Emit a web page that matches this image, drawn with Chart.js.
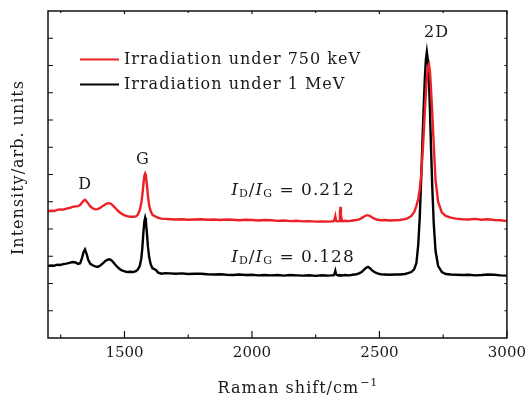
<!DOCTYPE html>
<html>
<head>
<meta charset="utf-8">
<script src="https://cdn.jsdelivr.net/npm/chart.js@4/dist/chart.umd.min.js"></script>
<style>
  body { margin: 0; background: #fff; }
  #raman_chart { display: block; }
</style>
</head>
<body>
<canvas id="raman_chart" width="532" height="402"></canvas>
<script>
// Raman shift (cm^-1), shared by both spectra
const ramanShift = [
  1200, 1212, 1224, 1236, 1248, 1260, 1272, 1284, 1296, 1308,
  1318, 1326, 1333, 1339, 1345, 1351, 1358, 1366, 1375, 1385,
  1395, 1405, 1415, 1424, 1432, 1440, 1448, 1456, 1465, 1475,
  1486, 1498, 1510, 1522, 1534,
  1545, 1553, 1560, 1566, 1570, 1574, 1578, 1581, 1584, 1588,
  1592, 1597, 1603, 1610, 1617, 1624, 1632, 1645,
  1660, 1680, 1700, 1725, 1750, 1775, 1800, 1825, 1850, 1875,
  1900, 1925, 1950, 1975, 2000, 2025, 2050, 2075, 2100, 2125,
  2150, 2175, 2200, 2225, 2250, 2275, 2300, 2312,
  2320, 2324, 2327, 2330, 2336, 2342, 2345, 2347, 2349, 2353,
  2365, 2380, 2395, 2410,
  2420, 2430, 2440, 2448, 2455, 2462, 2470, 2480, 2492, 2505,
  2520, 2540, 2560, 2580, 2600,
  2612, 2625, 2636, 2645, 2652, 2658, 2664, 2669, 2674, 2678,
  2682, 2686, 2690, 2694, 2698, 2702, 2707, 2713, 2720, 2730,
  2745,
  2760, 2780, 2800, 2825, 2850, 2875, 2900, 2925, 2950, 2975,
  3000
];

// Irradiation under 750 keV (red)
const irr750keV = [
  4.65, 4.67, 4.66, 4.70, 4.72, 4.71, 4.75, 4.77, 4.81, 4.83,
  4.84, 4.88, 4.96, 5.03, 5.07, 5.02, 4.93, 4.83, 4.76, 4.72,
  4.73, 4.78, 4.84, 4.90, 4.94, 4.95, 4.92, 4.85, 4.76, 4.66,
  4.58, 4.51, 4.47, 4.45, 4.45,
  4.46, 4.54, 4.70, 4.95, 5.25, 5.62, 5.95, 6.03, 5.95, 5.62,
  5.20, 4.85, 4.65, 4.52, 4.48, 4.45, 4.41, 4.38,
  4.37, 4.36, 4.35, 4.36, 4.34, 4.35, 4.36, 4.34, 4.35, 4.33,
  4.35, 4.34, 4.32, 4.34, 4.33, 4.31, 4.33, 4.32, 4.30, 4.31,
  4.29, 4.30, 4.28, 4.29, 4.27, 4.28, 4.27, 4.28,
  4.28, 4.36, 4.47, 4.30, 4.28, 4.29, 4.60, 4.81, 4.52, 4.29,
  4.30, 4.29, 4.31, 4.33,
  4.35, 4.40, 4.46, 4.50, 4.50, 4.48, 4.43, 4.38, 4.34, 4.32,
  4.33, 4.31, 4.32, 4.33, 4.36,
  4.40, 4.48, 4.62, 4.85, 5.10, 5.45, 6.00, 6.75, 7.55, 8.30,
  9.00, 9.55, 9.95, 10.05, 9.80, 9.20, 8.30, 7.10, 5.80, 5.00,
  4.60,
  4.48, 4.42, 4.38, 4.36, 4.35, 4.37, 4.34, 4.36, 4.33, 4.32,
  4.29
];

// Irradiation under 1 MeV (black)
const irr1MeV = [
  2.64, 2.66, 2.65, 2.69, 2.68, 2.71, 2.73, 2.76, 2.79, 2.77,
  2.72, 2.74, 2.92, 3.14, 3.25, 3.10, 2.86, 2.72, 2.67, 2.63,
  2.61, 2.66, 2.74, 2.82, 2.87, 2.89, 2.86, 2.78, 2.68, 2.58,
  2.50, 2.45, 2.42, 2.43, 2.42,
  2.45, 2.52, 2.65, 2.92, 3.30, 3.85, 4.28, 4.41, 4.28, 3.85,
  3.35, 2.95, 2.70, 2.56, 2.53, 2.49, 2.40, 2.36,
  2.38, 2.37, 2.36, 2.37, 2.35, 2.36, 2.36, 2.34, 2.33, 2.34,
  2.32, 2.31, 2.33, 2.31, 2.32, 2.30, 2.31, 2.30, 2.31, 2.29,
  2.31, 2.30, 2.29, 2.30, 2.28, 2.30, 2.29, 2.30,
  2.30, 2.36, 2.46, 2.33, 2.30, 2.31, 2.30, 2.31, 2.30, 2.30,
  2.31, 2.30, 2.32, 2.34,
  2.37, 2.42, 2.51, 2.58, 2.61, 2.57, 2.49, 2.42, 2.37, 2.34,
  2.33, 2.32, 2.33, 2.33, 2.35,
  2.38, 2.42, 2.52, 2.75, 3.40, 4.40, 5.90, 7.30, 8.60, 9.50,
  10.20, 10.50, 10.20, 9.50, 8.40, 7.10, 5.60, 4.20, 3.20, 2.65,
  2.42,
  2.35, 2.33, 2.32, 2.31, 2.32, 2.30, 2.31, 2.33, 2.32, 2.30,
  2.29
];

const xTickLabels = [1500, 2000, 2500, 3000];
const xMinorTicks = [1250, 1750, 2250, 2750];
const yTicks = [1, 2, 3, 4, 5, 6, 7, 8, 9, 10, 11];
const ratio750keV = '0.212';
const ratio1MeV = '0.128';

const SERIF = '"DejaVu Serif", "Liberation Serif", serif';
const INK = '#1a1a1a';

function toPoints(xs, ys){
  return xs.map((v, i) => ({x: v, y: ys[i]}));
}

// frame, inward ticks, legend and text labels
const decorations = {
  id: 'decorations',
  afterDatasetsDraw(chart){
    const {ctx, chartArea: a, scales: {x, y}} = chart;
    ctx.save();

    ctx.strokeStyle = '#111';
    ctx.lineWidth = 1.5;
    ctx.strokeRect(a.left, a.top, a.right - a.left, a.bottom - a.top);

    ctx.lineWidth = 1.2;
    ctx.beginPath();
    xTickLabels.forEach(v => {
      const px = x.getPixelForValue(v);
      ctx.moveTo(px, a.bottom); ctx.lineTo(px, a.bottom - 7);
      ctx.moveTo(px, a.top); ctx.lineTo(px, a.top + 3);
    });
    xMinorTicks.forEach(v => {
      const px = x.getPixelForValue(v);
      ctx.moveTo(px, a.bottom); ctx.lineTo(px, a.bottom - 3.5);
      ctx.moveTo(px, a.top); ctx.lineTo(px, a.top + 2);
    });
    yTicks.forEach(v => {
      const py = y.getPixelForValue(v);
      ctx.moveTo(a.left, py); ctx.lineTo(a.left + 5, py);
      ctx.moveTo(a.right, py); ctx.lineTo(a.right - 2.5, py);
    });
    ctx.stroke();

    ctx.letterSpacing = '1px';

    // legend
    ctx.font = '16px ' + SERIF;
    ctx.textBaseline = 'middle';
    ctx.textAlign = 'left';
    chart.data.datasets.forEach((ds, i) => {
      const ly = 59.5 + i * 25;
      ctx.strokeStyle = ds.borderColor;
      ctx.lineWidth = 2.2;
      ctx.beginPath();
      ctx.moveTo(80, ly); ctx.lineTo(119, ly);
      ctx.stroke();
      ctx.fillStyle = INK;
      ctx.fillText(ds.label, 124, ly + 0.5);
    });

    // peak labels
    ctx.textAlign = 'center';
    ctx.fillStyle = INK;
    ctx.fillText('D', x.getPixelForValue(1346), y.getPixelForValue(5.63));
    ctx.fillText('G', x.getPixelForValue(1572), y.getPixelForValue(6.53));
    ctx.fillText('2D', x.getPixelForValue(2724), y.getPixelForValue(11.2));

    drawRatio(ctx, x.getPixelForValue(2161), y.getPixelForValue(5.41), ratio750keV);
    drawRatio(ctx, x.getPixelForValue(2161), y.getPixelForValue(2.95), ratio1MeV);

    // y title
    ctx.save();
    ctx.translate(19, 167.5);
    ctx.rotate(-Math.PI / 2);
    ctx.textAlign = 'center';
    ctx.textBaseline = 'middle';
    ctx.font = '16px ' + SERIF;
    ctx.fillText('Intensity/arb. units', 0, 0);
    ctx.restore();

    // x title with superscript
    ctx.font = '16px ' + SERIF;
    const main = 'Raman shift/cm';
    const sup = '\u22121';
    const wMain = ctx.measureText(main).width;
    ctx.font = '11px ' + SERIF;
    const wSup = ctx.measureText(sup).width;
    const x0 = (a.left + a.right) / 2 + 20 - (wMain + wSup) / 2;
    ctx.textAlign = 'left';
    ctx.textBaseline = 'middle';
    ctx.font = '16px ' + SERIF;
    ctx.fillText(main, x0, 389);
    ctx.font = '11px ' + SERIF;
    ctx.fillText(sup, x0 + wMain + 1, 383);

    ctx.restore();
  }
};

function drawRatio(ctx, cx, cy, value){
  const parts = [
    {t: 'I', f: 'italic 17px ' + SERIF, dy: 0},
    {t: 'D', f: '11px ' + SERIF, dy: 4},
    {t: '/', f: '17px ' + SERIF, dy: 0},
    {t: 'I', f: 'italic 17px ' + SERIF, dy: 0},
    {t: 'G', f: '11px ' + SERIF, dy: 4},
    {t: ' = ' + value, f: '17px ' + SERIF, dy: 0}
  ];
  let total = 0;
  parts.forEach(p => { ctx.font = p.f; p.w = ctx.measureText(p.t).width; total += p.w; });
  let px = cx - total / 2;
  ctx.textAlign = 'left';
  ctx.textBaseline = 'middle';
  parts.forEach(p => {
    ctx.font = p.f;
    ctx.fillText(p.t, px, cy + p.dy);
    px += p.w;
  });
}

function drawRamanSpectra(el){
  if(!el) return;

  const data = {
    datasets: [
      {
        label: 'Irradiation under 750 keV',
        data: toPoints(ramanShift, irr750keV),
        borderColor: 'rgb(236, 32, 38)',
        borderWidth: 2.4,
        pointRadius: 0,
        tension: 0,
        fill: false
      },
      {
        label: 'Irradiation under 1 MeV',
        data: toPoints(ramanShift, irr1MeV),
        borderColor: 'rgb(0, 0, 0)',
        borderWidth: 2.4,
        pointRadius: 0,
        tension: 0,
        fill: false
      }
    ]
  };

  const config = {
    type: 'line',
    data: data,
    options: {
      responsive: false,
      animation: false,
      layout: {
        padding: {left: 48, right: 23, top: 11, bottom: 34}
      },
      scales: {
        x: {
          type: 'linear',
          min: 1200,
          max: 3000,
          afterBuildTicks: scale => {
            scale.ticks = xTickLabels.map(v => ({value: v}));
          },
          grid: {display: false, drawTicks: false},
          border: {display: false},
          ticks: {
            autoSkip: false,
            maxRotation: 0,
            padding: 6,
            color: INK,
            font: {family: SERIF, size: 15},
            callback: v => String(v)
          },
          title: {display: false}
        },
        y: {
          display: false,
          min: 0,
          max: 12
        }
      },
      plugins: {
        legend: {display: false},
        title: {display: false},
        tooltip: {enabled: false}
      }
    },
    plugins: [decorations]
  };

  new Chart(el, config);
}

drawRamanSpectra(document.getElementById('raman_chart'));
</script>
</body>
</html>
